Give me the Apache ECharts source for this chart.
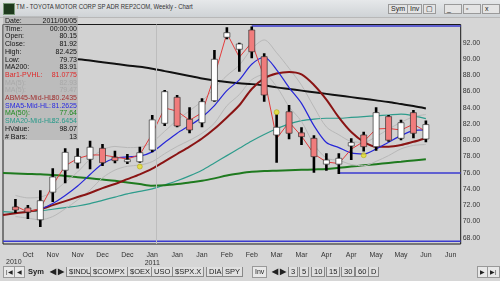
<!DOCTYPE html>
<html><head><meta charset="utf-8">
<script src="https://cdn.jsdelivr.net/npm/echarts@6/dist/echarts.min.js"></script>
<style>
html,body{margin:0;padding:0;width:500px;height:281px;overflow:hidden;background:#d6d6d6;font-family:"Liberation Sans",Arial,sans-serif;}
#wrap{position:relative;width:500px;height:281px;}
#chart{position:absolute;left:0;top:0;width:500px;height:281px;}
#titlebar{position:absolute;left:0;top:0;width:500px;height:17px;background:linear-gradient(#e6e8ea,#cfd3d6);border-bottom:1px solid #b8b8b8;}
#titlebar .ttl{position:absolute;left:16px;top:3px;font-size:7px;color:#333;white-space:nowrap;transform:scaleX(0.85);transform-origin:0 0;}
#titlebar .ico{position:absolute;left:3px;top:3px;width:10px;height:10px;background:#1e3a1e;border:1px solid #7a9a7a;}
.tb{position:absolute;font-size:7px;color:#222;border:1px solid #9a9a9a;background:#e4e4e4;padding:0 2px;line-height:8px;}
#panel{position:absolute;left:3px;top:16px;width:75px;height:124px;background:rgba(170,170,170,0.55);font-size:7px;}
#panel .row{position:absolute;left:2px;width:72px;height:8px;line-height:8px;}
#panel .row .v{position:absolute;right:0;top:0;}
#toolbar{position:absolute;left:0;top:265px;width:500px;height:14px;font-size:7.5px;color:#222;}
#toolbar .b{position:absolute;top:1px;height:10px;line-height:10px;border:1px solid #999;background:#e8e8e8;padding:0 2px;font-size:6px;}
#toolbar .t{position:absolute;top:2px;height:9px;line-height:9px;padding:0 2px;border:1px solid #888;border-top:none;background:#e0e0e0;}
#toolbar .lbl{position:absolute;top:2px;line-height:9px;font-weight:bold;}
</style></head><body>
<div id="wrap">
<div id="chart"></div>
<div id="titlebar"><div class="ico"></div><div class="ttl">TM - TOYOTA MOTOR CORP SP ADR REP2COM, Weekly - Chart</div>
<span class="tb" style="left:388px;top:4px">Sym</span><span class="tb" style="left:407px;top:4px">Inv</span><span class="tb" style="left:423px;top:4px">▢</span>
<span class="tb" style="left:444px;top:4px;width:12px">_</span><span class="tb" style="left:463px;top:4px;width:12px">▫</span><span class="tb" style="left:482px;top:4px;width:12px">x</span>
</div>
<div id="panel"></div>
<div id="toolbar">
<span class="b" style="left:3px">|◀</span><span class="b" style="left:14px">◀</span>
<span class="lbl" style="left:28px">Sym</span><span class="lbl" style="left:50px">◀ ▶</span>
<span class="t" style="left:66px">$INDU</span><span class="t" style="left:90px">$COMPX</span><span class="t" style="left:127px">$OEX</span><span class="t" style="left:151px">USO</span><span class="t" style="left:172px">$SPX.X</span><span class="t" style="left:206px">DIA</span><span class="t" style="left:222px">SPY</span>
<span class="b" style="left:252px;font-size:7px">Inv</span><span class="lbl" style="left:272px">◀ ▶</span>
<span class="t" style="left:288px">3</span><span class="t" style="left:299px">5</span><span class="t" style="left:311px">10</span><span class="t" style="left:326px">15</span><span class="t" style="left:341px">30</span><span class="t" style="left:355px">60</span><span class="t" style="left:368px">D</span>
<span class="b" style="left:477px">▶</span><span class="b" style="left:487px">▶|</span>
</div>
</div>
<script>
// ---- data ----
const barIndex = [1,2,3,4,5,6,7,8,9,10,11,12,13,14,15,16,17,18,19,20,21,22,23,24,25,26,27,28,29,30,31,32,33,34];
const open  = [71.78,71.66,70.2,73.6,76.3,77.2,77.65,79.0,77.9,77.35,77.35,78.8,82.08,85.28,82.57,82.15,84.86,92.67,91.19,93.56,90.28,80.64,83.5,80.9,80.23,77.05,77.05,79.29,80.64,79.2,82.9,80.23,83.39,80.15];
const close = [71.41,71.15,72.55,75.47,78.5,78.0,79.13,77.23,77.48,77.6,78.46,82.5,85.97,81.75,81.26,84.74,89.96,93.23,91.84,90.89,85.56,81.59,80.85,80.43,77.97,77.56,77.77,79.7,79.2,83.39,80.0,82.15,80.85,81.92];
const low   = [71.04,70.3,69.3,72.4,74.7,76.5,76.42,76.82,77.16,77.07,77.23,78.5,81.75,81.58,80.85,81.59,84.74,92.42,88.43,90.08,84.74,77.23,80.1,79.4,76.0,76.24,75.84,77.56,78.6,78.7,79.8,80.0,80.23,79.73];
const high  = [72.76,72.02,73.85,76.56,79.0,79.0,79.94,79.53,78.7,78.3,79.2,83.1,86.18,85.56,84.05,85.16,91.1,93.9,92.0,94.0,90.7,83.2,84.34,81.59,80.6,78.4,78.4,80.23,81.05,84.05,83.1,82.5,83.7,82.425];

const lineIndex = [0,1,2,3,4,5,6,7,8,9,10,11,12,13,14,15,16,17,18,19,20,21,22,23,24,25,26,27,28,29,30,31,32,33,34];
const ma200   = [null,null,null,null,null,null,89.95,89.8,89.6,89.4,89.2,89.05,88.8,88.5,88.2,87.9,87.6,87.35,87.15,87.0,86.9,86.75,86.5,86.3,86.1,85.9,85.7,85.5,85.3,85.1,84.9,84.7,84.45,84.2,83.91];
const bar1Mid = [null,71.9,71.16,71.58,74.48,76.85,77.75,78.18,78.18,77.93,77.69,78.2,80.8,83.97,83.57,82.45,83.38,87.92,93.16,90.2,92.04,87.72,80.2,82.22,80.5,78.3,77.32,77.12,78.9,79.83,81.38,81.45,81.25,81.97,81.08];
const ma5High = [null,73.2,72.9,73.0,73.6,74.84,76.09,77.67,78.81,79.23,79.09,79.13,79.77,81.1,82.47,83.62,84.81,86.41,87.95,89.24,91.23,92.34,90.76,88.85,86.77,84.09,81.63,80.67,79.84,79.74,80.43,81.37,82.19,82.88,83.16];
const ma5Low  = [null,70.6,70.4,70.2,70.6,71.55,72.64,73.86,75.37,76.32,76.79,76.94,77.36,78.34,79.23,79.98,80.85,82.1,84.24,85.61,87.45,88.08,86.58,84.12,82.31,79.49,77.79,77.52,77.01,76.85,77.39,78.1,78.93,79.35,79.47];
const abm45   = [70.8,71.0,71.2,71.5,72.0,72.5,73.0,73.5,74.1,74.6,75.2,75.8,76.5,77.4,78.3,79.2,80.2,81.4,82.8,84.3,86.3,87.6,88.2,88.4,88.1,86.8,85.0,82.8,81.0,79.8,79.2,79.2,79.4,79.8,80.24];
const sma5Mid = [null,null,null,71.5,72.2,73.19,74.36,75.77,77.09,77.78,77.95,78.04,78.56,79.72,80.85,81.8,82.83,84.26,86.1,87.42,89.34,90.21,88.66,86.48,84.54,81.79,79.71,79.09,78.43,78.29,78.91,79.74,80.56,81.18,81.26];
const ma50    = [75.95,75.9,75.85,75.8,75.7,75.6,75.45,75.3,75.15,75.0,74.8,74.6,74.4,74.45,74.6,74.8,75.0,75.3,75.65,75.9,76.1,76.2,76.25,76.3,76.35,76.4,76.45,76.6,76.75,76.9,77.05,77.2,77.35,77.5,77.64];
const sma20Mid= [71.2,71.1,71.2,71.3,71.5,71.7,71.9,72.2,72.6,73.0,73.4,73.7,74.0,74.5,75.0,75.6,76.3,77.2,78.1,79.0,79.9,80.7,81.4,82.0,82.4,82.6,82.7,82.7,82.8,82.9,83.0,83.1,83.2,83.0,82.65];

const markerPts = [[11,76.75],[22,83.45],[29,78.15]];
const highLevel = [[20,94.06],[36.8,94.06]];
const lowLevel  = [[27,75.96],[36.8,75.96]];
const baseLevel = [[0,67.55],[36.8,67.55]];

const yTicks = [68,70,72,74,76,78,80,82,84,86,88,90,92];
const xTickLabels = {2:'Oct',4:'Nov',6:'Nov',8:'Dec',10:'Dec',12:'Jan\n2011',14:'Jan',16:'Jan',18:'Feb',20:'Feb',22:'Mar',24:'Mar',26:'Apr',28:'Apr',30:'May',32:'May',34:'Jun',36:'Jun'};
const yearLabel = '2010';

const tagValues = [83.91, 83.0, 81.92, 81.0775, 80.2435, 79.47, 77.64];
const tagTexts  = ['83.91','82.93','81.92','81.0775','80.2435','79.47','77.64'];
const tagBg     = ['#000000','#5f6b6b','#000000','#ff1a1a','#a80000','#8a8a8a','#0a8a0a'];
const tagFg     = ['#ffffff','#c8c8c8','#ffffff','#ffffff','#ffffff','#e8e8e8','#ffffff'];

const panelLabels = ['Date:','Time:','Open:','Close:','High:','Low:','MA200:','Bar1-PVHL:','MA(5):','MA(5):','ABM45-Mid-HL:','SMA5-Mid-HL:','MA(50):','SMA20-Mid-HL:','HValue:','# Bars:'];
const panelValues = ['2011/06/05','00:00:00','80.15','81.92','82.425','79.73','83.91','81.0775','82.93','79.47','80.2435','81.2625','77.64','82.6454','98.07','13'];
const panelColors = ['#111','#111','#111','#111','#111','#111','#111','#e02828','#a8a8a8','#a8a8a8','#a03030','#2a2ae0','#1f8a1f','#2a9a8a','#111','#111'];

// ---- panel ----
const panel = document.getElementById('panel');
panelLabels.forEach((l,i)=>{
  const r=document.createElement('div'); r.className='row'; r.style.top=(1+i*7.7)+'px'; r.style.color=panelColors[i];
  r.innerHTML='<span>'+l+'</span><span class="v">'+panelValues[i]+'</span>';
  panel.appendChild(r);
});

// ---- chart ----
const chart = echarts.init(document.getElementById('chart'));
const candles = barIndex.map((x,i)=>[x,open[i],close[i],low[i],high[i]]);
const toXY = arr => lineIndex.map((x,i)=>[x,arr[i]]);
function renderCandle(params, api){
  const x=api.value(0),o=api.value(1),c=api.value(2),l=api.value(3),h=api.value(4);
  const pH=api.coord([x,h]),pL=api.coord([x,l]),pO=api.coord([x,o]),pC=api.coord([x,c]);
  const up=c>=o; const top=Math.min(pO[1],pC[1]); const bh=Math.max(1.5,Math.abs(pO[1]-pC[1]));
  return {type:'group',children:[
    {type:'rect',shape:{x:pH[0]-1.3,y:pH[1],width:2.6,height:pL[1]-pH[1]},style:{fill:'#000'}},
    {type:'rect',shape:{x:pH[0]-3,y:top,width:6,height:bh},style:{fill:up?'#ffffff':'#f07c7c',stroke:'#333',lineWidth:0.7}}
  ]};
}
function ln(name,arr,color,width,z){
  return {name,type:'line',data:toXY(arr),showSymbol:false,smooth:0.3,lineStyle:{color,width},itemStyle:{color},z:z||2,silent:true,animation:false};
}
const series = [
  ln('sma20',sma20Mid,'#2e9c8c',1.2),
  ln('ma50',ma50,'#1f7a1f',2),
  ln('ma5h',ma5High,'#b8b8b8',1),
  ln('ma5l',ma5Low,'#b8b8b8',1),
  ln('ma200',ma200,'#111111',2),
  ln('abm45',abm45,'#8a1414',2),
  ln('sma5',sma5Mid,'#2626d8',1.2),
  {name:'bar1',type:'line',data:toXY(bar1Mid),showSymbol:false,lineStyle:{color:'#e43c3c',width:1},z:3,silent:true,animation:false},
  {name:'hi',type:'line',data:highLevel,showSymbol:false,lineStyle:{color:'#3a3ad0',width:1.5},z:4,animation:false},
  {name:'lo',type:'line',data:lowLevel,showSymbol:false,lineStyle:{color:'#3a3ad0',width:1.5},z:4,animation:false},
  {name:'base',type:'line',data:baseLevel,showSymbol:false,lineStyle:{color:'#3a3ad0',width:1.5},z:4,animation:false,
    markLine:{silent:true,symbol:'none',animation:false,data:[{xAxis:12.35}],lineStyle:{color:'#bdbdbd',width:1,type:'solid'},label:{show:false}}},
  {name:'candles',type:'custom',renderItem:renderCandle,data:candles,encode:{x:0,y:[1,2,3,4]},z:5,clip:true,animation:false},
  {name:'marks',type:'scatter',data:markerPts,symbol:'circle',symbolSize:5,itemStyle:{color:'#e6e028',borderColor:'#a89a00',borderWidth:0.6},z:6,animation:false},
  {name:'tags',type:'line',data:[[34,tagValues[0]]],showSymbol:false,lineStyle:{opacity:0},z:7,animation:false,
    markLine:{silent:true,symbol:'none',animation:false,lineStyle:{opacity:0},
      data:tagValues.map((v,i)=>({yAxis:v,label:{show:true,position:'end',distance:1,formatter:tagTexts[i],color:tagFg[i],backgroundColor:tagBg[i],fontSize:7,fontFamily:'Liberation Sans',padding:[0,1,0,1],width:29,lineHeight:7,align:'left'}}))}}
];
chart.setOption({
  animation:false,
  grid:{left:3,right:39.3,top:24.5,bottom:37,show:true,backgroundColor:'#d2d2d2',borderColor:'#1a1a1a',borderWidth:1},
  xAxis:{type:'value',min:0,max:36.8,interval:2,axisLine:{show:false},axisTick:{show:false},splitLine:{show:false},
    axisLabel:{fontSize:7,color:'#333',margin:7,lineHeight:8,fontFamily:'Liberation Sans',showMinLabel:true,showMaxLabel:false,
      formatter:v=>xTickLabels[v]||''}},
  yAxis:{type:'value',position:'right',min:67.22,max:94.24,axisLine:{show:false},axisTick:{show:false},splitLine:{show:false},
    axisLabel:{customValues:yTicks,fontSize:7,color:'#333',margin:2,fontFamily:'Liberation Sans',formatter:v=>v.toFixed(2)}},
  graphic:[{type:'text',left:6,top:259,style:{text:yearLabel,fontSize:7,fill:'#333',fontFamily:'Liberation Sans'}}],
  series
});
</script>
</body></html>
